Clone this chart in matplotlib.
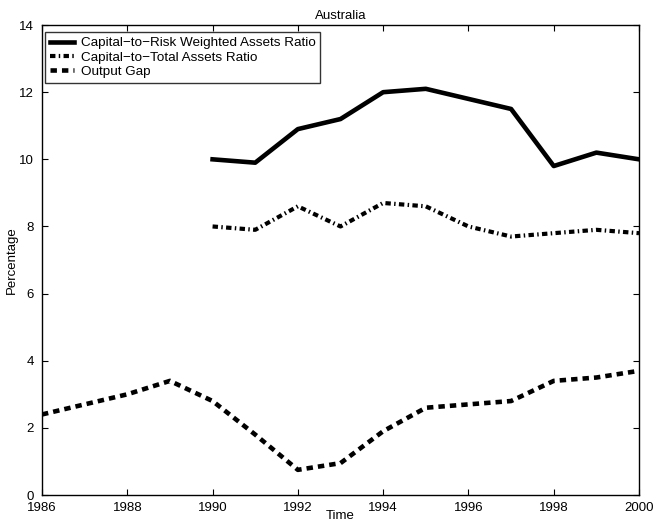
import matplotlib
matplotlib.use("Agg")
import matplotlib.pyplot as plt

plt.rcParams['font.family'] = ['Liberation Sans', 'DejaVu Sans']

years_risk = [1990, 1991, 1992, 1993, 1994, 1995, 1996, 1997, 1998, 1999, 2000]
risk_ratio = [10.0, 9.9, 10.9, 11.2, 12.0, 12.1, 11.8, 11.5, 9.8, 10.2, 10.0]
total_ratio = [8.0, 7.9, 8.6, 8.0, 8.7, 8.6, 8.0, 7.7, 7.8, 7.9, 7.8]
years_gap = list(range(1986, 2001))
output_gap = [2.4, 2.7, 3.0, 3.4, 2.8, 1.8, 0.75, 0.95, 1.9, 2.6, 2.7, 2.8, 3.4, 3.5, 3.7]

xticks = [1986, 1988, 1990, 1992, 1994, 1996, 1998, 2000]
yticks = [0, 2, 4, 6, 8, 10, 12, 14]

fig = plt.figure(figsize=(6.53, 5.25), dpi=100)
ax = fig.add_axes([0.0643, 0.0571, 0.9143, 0.8952])

ax.plot(years_risk, risk_ratio, color='black', lw=3.3, ls='-',
        label='Capital\u2212to\u2212Risk Weighted Assets Ratio')
ax.plot(years_risk, total_ratio, color='black', lw=3.0, ls=(0, (1.3, 0.8, 0.35, 0.8)),
        label='Capital\u2212to\u2212Total Assets Ratio')
ax.plot(years_gap, output_gap, color='black', lw=3.3, ls=(0, (1.4, 1.1)),
        label='Output Gap')

ax.set_xlim(1986, 2000)
ax.set_ylim(0, 14)
ax.set_xticks(xticks)
ax.set_yticks(yticks)
ax.tick_params(direction='in', length=4, labelsize=9.5, top=True, right=True)
ax.tick_params(axis='x', pad=5)
ax.tick_params(axis='y', pad=6)
for s in ax.spines.values():
    s.set_linewidth(1.0)
ax.set_title('Australia', fontsize=9.5, pad=4)
ax.set_xlabel('Time', fontsize=9.5, labelpad=-3)
ax.set_ylabel('Percentage', fontsize=9.5, labelpad=1)

leg = ax.legend(loc='upper left', bbox_to_anchor=(0.005, 0.985), fontsize=9.7,
                frameon=True, fancybox=False, edgecolor='black',
                handlelength=1.8, handletextpad=0.5, borderaxespad=0.0,
                labelspacing=0.15, borderpad=0.35)
leg.get_frame().set_linewidth(1.0)

fig.savefig('out.png', dpi=100)
